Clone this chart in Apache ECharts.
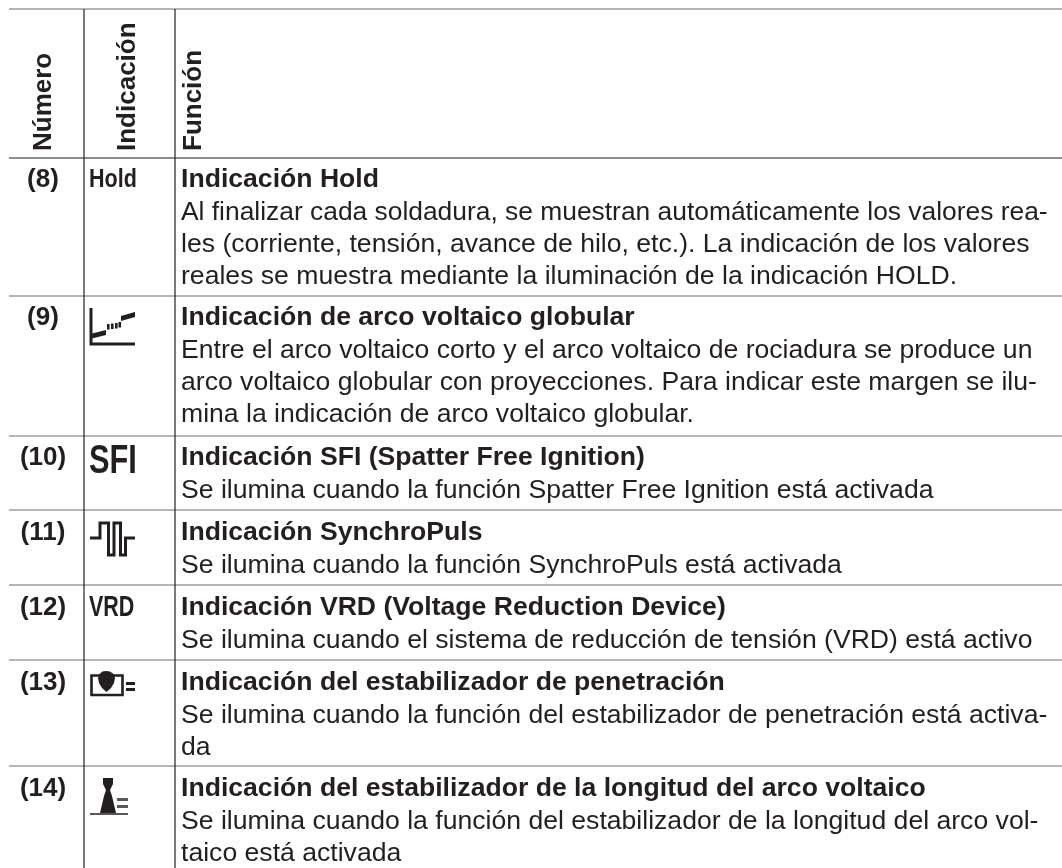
<!DOCTYPE html>
<html>
<head>
<meta charset="utf-8">
<title>Indicaciones</title>
<style>
html, body { margin: 0; padding: 0; background: #fff; }
#main { width: 1062px; height: 868px; }
</style>
<script src="https://cdn.jsdelivr.net/npm/echarts@6/dist/echarts.min.js"></script>
</head>
<body>
<div id="main"></div>
<script>
var headers = ['Número', 'Indicación', 'Función'];
var numbers = ['(8)', '(9)', '(10)', '(11)', '(12)', '(13)', '(14)'];
var titles = [
    'Indicación Hold',
    'Indicación de arco voltaico globular',
    'Indicación SFI (Spatter Free Ignition)',
    'Indicación SynchroPuls',
    'Indicación VRD (Voltage Reduction Device)',
    'Indicación del estabilizador de penetración',
    'Indicación del estabilizador de la longitud del arco voltaico'
];
var bodies = [
    ['Al finalizar cada soldadura, se muestran automáticamente los valores rea-',
     'les (corriente, tensión, avance de hilo, etc.). La indicación de los valores',
     'reales se muestra mediante la iluminación de la indicación HOLD.'],
    ['Entre el arco voltaico corto y el arco voltaico de rociadura se produce un',
     'arco voltaico globular con proyecciones. Para indicar este margen se ilu-',
     'mina la indicación de arco voltaico globular.'],
    ['Se ilumina cuando la función Spatter Free Ignition está activada'],
    ['Se ilumina cuando la función SynchroPuls está activada'],
    ['Se ilumina cuando el sistema de reducción de tensión (VRD) está activo'],
    ['Se ilumina cuando la función del estabilizador de penetración está activa-',
     'da'],
    ['Se ilumina cuando la función del estabilizador de la longitud del arco vol-',
     'taico está activada']
];
var rowLines = [158, 296, 436, 510, 585, 660, 766];

var ink = '#231f20';
var font = '"Liberation Sans", Arial, sans-serif';
var fontSize = 26.6;
var pitch = 32.2;
var g = [];

function hline(y, x1, x2, w, color) {
    g.push({type: 'line', shape: {x1: x1, y1: y, x2: x2, y2: y}, style: {stroke: color, lineWidth: w}});
}
function vline(x) {
    g.push({type: 'line', shape: {x1: x, y1: 9, x2: x, y2: 868}, style: {stroke: ink, lineWidth: 1.2}});
}
function label(t, x, y, weight, size, align, extra) {
    var el = {
        type: 'text', x: x, y: y,
        style: {text: t, fill: ink, font: weight + ' ' + size + 'px ' + font, textAlign: align || 'left', textVerticalAlign: 'middle'}
    };
    for (var k in extra) { el[k] = extra[k]; }
    g.push(el);
}
function poly(points, fill) {
    g.push({type: 'polygon', shape: {points: points}, style: {fill: fill || ink}});
}
function wire(points, w) {
    g.push({type: 'polyline', shape: {points: points}, style: {stroke: ink, lineWidth: w, fill: 'none'}});
}
function box(x, y, w, h, fill) {
    g.push({type: 'rect', shape: {x: x, y: y, width: w, height: h}, style: {fill: fill || ink}});
}

// 表格线
hline(9, 9, 1062, 1.2, '#6d6e70');
for (var i = 0; i < rowLines.length; i++) {
    hline(rowLines[i], 9, 1062, 1.2, i == 0 ? ink : '#6d6e70');
}
vline(84);
vline(175);

// 表头(竖排)
var rot = Math.PI / 2;
label(headers[0], 44, 151, 'bold', 26, 'left', {rotation: rot});
label(headers[1], 128, 151, 'bold', 26, 'left', {rotation: rot});
label(headers[2], 194, 151, 'bold', 26, 'left', {rotation: rot});

// 内容
var firstY = [180, 318, 458, 533, 608, 683, 789];
for (var r = 0; r < numbers.length; r++) {
    label(numbers[r], 43, firstY[r], 'bold', 26, 'center');
    label(titles[r], 181, firstY[r], 'bold', fontSize);
    for (var l = 0; l < bodies[r].length; l++) {
        // 第一行在原图里排得略紧
        label(bodies[r][l], 181, firstY[r] + pitch * (l + 1), 'normal', fontSize, 'left', r == 0 && l == 0 ? {scaleX: 0.992} : {});
    }
}

// 图标
label('Hold', 89, 180, 'bold', 25, 'left', {scaleX: 0.86});
label('SFI', 89, 462, 'bold', 40, 'left', {scaleX: 0.77});
label('VRD', 89, 608, 'bold', 29, 'left', {scaleX: 0.74});

// 电弧图标
wire([[91, 308], [91, 344], [135, 344]], 3);
poly([[92, 333.5], [106, 330], [106, 335], [92, 338.5]]);
box(107, 324, 2.6, 5.5);
box(111, 323.5, 2.6, 5.5);
box(115, 323, 2.6, 5.5);
box(118.5, 322, 2.6, 5.5);
poly([[121, 316], [135, 312], [135, 317], [121, 321]]);

// 脉冲图标
wire([[90, 538], [100, 538], [100, 523], [108.5, 523], [108.5, 555], [114, 555], [114, 523], [120.5, 523], [120.5, 555], [125.5, 555], [125.5, 538], [135, 538]], 3);

// 熔深图标
g.push({type: 'rect', shape: {x: 91.5, y: 675.5, width: 31, height: 19.5}, style: {fill: 'none', stroke: ink, lineWidth: 2.6}});
poly([[106, 671], [110, 671.5], [113.5, 674], [115, 678], [114, 683], [111, 688], [106.5, 692], [102, 688], [99, 683], [98, 678], [99.5, 674], [102.5, 671.5]]);
box(126, 682, 9, 3);
box(126, 688, 9, 3);

// 弧长图标
poly([[103, 778], [113, 778], [113, 784], [110, 790], [112, 796], [116, 813], [100, 813], [104, 796], [106, 790], [103, 784]]);
hline(814, 90, 128, 1.6, ink);
box(117, 798, 11, 3, '#58595b');
box(117, 805, 11, 3, '#58595b');

var myChart = echarts.init(document.getElementById('main'), null, {renderer: 'canvas'});
myChart.setOption({
    backgroundColor: '#fff',
    animation: false,
    graphic: {elements: g}
});
</script>
</body>
</html>
